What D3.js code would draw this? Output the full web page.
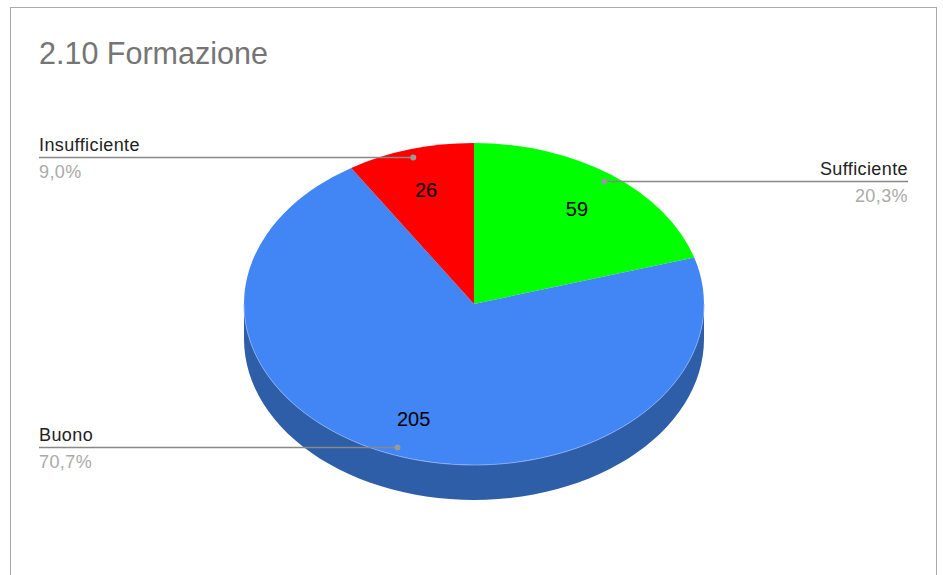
<!DOCTYPE html>
<html>
<head>
<meta charset="utf-8">
<script src="https://cdn.jsdelivr.net/npm/d3@7"></script>
<style>
  body { margin: 0; background: #fff; }
  svg { display: block; font-family: Arial, "Liberation Sans", sans-serif; }
</style>
</head>
<body>
<svg id="chart" width="943" height="575"></svg>
<script>
(function () {

  'use strict';

  var categories = ['Sufficiente', 'Buono', 'Insufficiente'];
  var values = [59, 205, 26];
  var percentLabels = ['20,3%', '70,7%', '9,0%'];
  var colors = ['#00ff00', '#4285f4', '#ff0000'];
  var sideColors = ['#00b300', '#2f5ea8', '#b30000'];
  var labelSide = ['right', 'left', 'left'];

  var cx = 474, cy = 304; // pie centre
  var rx = 230, ry = 161; // ellipse radii
  var depth = 35;

  var svg = d3.select('#chart');

  // frame + title
  svg.append('rect')
    .attr('x', 10.5).attr('y', 7.5)
    .attr('width', 926).attr('height', 580)
    .attr('fill', '#fff')
    .attr('stroke', '#aaa');

  svg.append('text')
    .attr('x', 39).attr('y', 64)
    .attr('font-size', 30.5)
    .attr('fill', '#757575')
    .text('2.10 Formazione');

  var pie = d3.pie().sort(null).value(function (d) { return d; });
  var arcs = pie(values);

  // point on the ellipse, angle measured clockwise from 12 o'clock
  function pt(a, r) {
    return [cx + rx * r * Math.sin(a), cy - ry * r * Math.cos(a)];
  }

  // ----------- SIDE (front half only) --------------
  var side = svg.append('g');
  arcs.forEach(function (d, i) {
    var a0 = Math.max(d.startAngle, Math.PI / 2);
    var a1 = Math.min(d.endAngle, 3 * Math.PI / 2);
    if (a1 <= a0) { return; }
    var n = 60, p = d3.path(), k, a, q;
    for (k = 0; k <= n; k++) {
      a = a0 + (a1 - a0) * k / n;
      q = pt(a, 1);
      if (k === 0) { p.moveTo(q[0], q[1]); } else { p.lineTo(q[0], q[1]); }
    }
    for (k = n; k >= 0; k--) {
      a = a0 + (a1 - a0) * k / n;
      q = pt(a, 1);
      p.lineTo(q[0], q[1] + depth);
    }
    p.closePath();
    side.append('path')
      .attr('d', p.toString())
      .attr('fill', sideColors[i]);
  });

  // ----------- TOP FACE --------------
  var arc = d3.arc().innerRadius(0).outerRadius(rx);
  svg.append('g')
    .attr('transform', 'translate(' + cx + ',' + cy + ') scale(1,' + (ry / rx) + ')')
    .selectAll('path')
    .data(arcs)
    .enter()
    .append('path')
    .attr('d', arc)
    .attr('fill', function (d, i) { return colors[i]; });

  // light rim between face and side
  svg.append('path')
    .attr('d', function () {
      var p = d3.path(), k, q;
      for (k = 0; k <= 80; k++) {
        q = pt(Math.PI / 2 + Math.PI * k / 80, 1);
        if (k === 0) { p.moveTo(q[0], q[1]); } else { p.lineTo(q[0], q[1]); }
      }
      return p.toString();
    })
    .attr('fill', 'none')
    .attr('stroke', '#8ab0f5')
    .attr('stroke-width', 0.8);

  // ----------- VALUE LABELS --------------
  arcs.forEach(function (d) {
    var mid = (d.startAngle + d.endAngle) / 2;
    var q = pt(mid, 0.75);
    svg.append('text')
      .attr('x', q[0]).attr('y', q[1] + 9)
      .attr('text-anchor', 'middle')
      .attr('font-size', 20)
      .attr('fill', '#000')
      .text(d.data);
  });

  // ----------- LEADER LABELS --------------
  arcs.forEach(function (d, i) {
    var mid = (d.startAngle + d.endAngle) / 2;
    var q = pt(mid, 0.95);
    var left = labelSide[i] === 'left';
    var tx = left ? 39 : 908;
    var y = Math.round(q[1]) + 0.5;

    svg.append('line')
      .attr('x1', tx).attr('x2', q[0])
      .attr('y1', y).attr('y2', y)
      .attr('stroke', '#888')
      .attr('stroke-width', 1.5);
    svg.append('circle')
      .attr('cx', q[0]).attr('cy', y)
      .attr('r', 3)
      .attr('fill', '#999');
    svg.append('text')
      .attr('x', tx).attr('y', y - 7)
      .attr('text-anchor', left ? 'start' : 'end')
      .attr('font-size', 18)
      .attr('letter-spacing', 0.4)
      .attr('fill', '#222')
      .text(categories[i]);
    svg.append('text')
      .attr('x', tx).attr('y', y + 20)
      .attr('text-anchor', left ? 'start' : 'end')
      .attr('font-size', 18)
      .attr('letter-spacing', 0.4)
      .attr('fill', '#aaa')
      .text(percentLabels[i]);
  });

})();
</script>
</body>
</html>
